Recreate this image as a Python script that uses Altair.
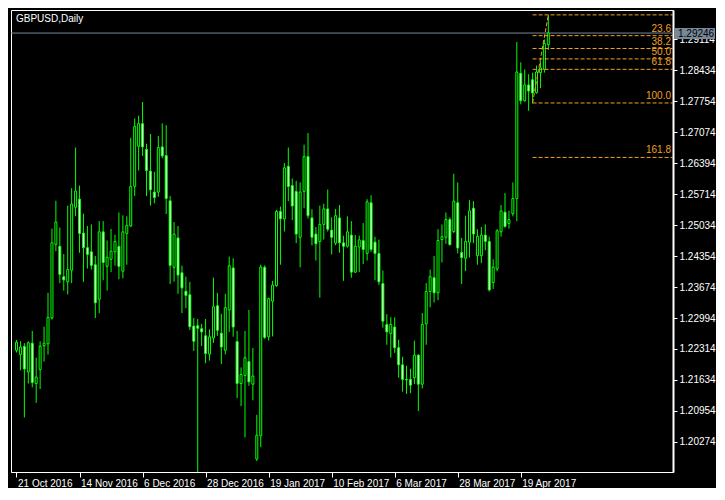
import json
import altair as alt
import pandas as pd

symbol_title = "GBPUSD,Daily"

opens = [1.22286, 1.22194, 1.22371, 1.21811, 1.22441, 1.21556, 1.21861, 1.22385, 1.22427, 1.22994,
         1.24609, 1.24567, 1.23901, 1.23787, 1.24042, 1.25424, 1.25601, 1.24857, 1.24538, 1.24446,
         1.24163, 1.23405, 1.24885, 1.24127, 1.24283, 1.24446, 1.24567, 1.24021, 1.24850, 1.25013,
         1.25884, 1.26762, 1.27258, 1.26692, 1.26217, 1.25757, 1.25757, 1.26748, 1.26557, 1.25565,
         1.24106, 1.24751, 1.23986, 1.23582, 1.23504, 1.22817, 1.22824, 1.22760, 1.22604, 1.22201,
         1.22555, 1.23263, 1.22661, 1.22286, 1.23171, 1.24092, 1.22477, 1.21556, 1.21733, 1.22038,
         1.21542, 1.19899, 1.20409, 1.24106, 1.22583, 1.23362, 1.23702, 1.25332, 1.25169, 1.26323,
         1.25898, 1.25771, 1.24765, 1.25771, 1.26536, 1.25190, 1.24836, 1.24673, 1.25048, 1.25388,
         1.24921, 1.24637, 1.25190, 1.24644, 1.24567, 1.24814, 1.24000, 1.24552, 1.24694, 1.24411,
         1.25523, 1.24659, 1.24411, 1.23752, 1.22852, 1.22654, 1.22796, 1.22342, 1.21967, 1.21648,
         1.21648, 1.21684, 1.22179, 1.21542, 1.22866, 1.23575, 1.23879, 1.23546, 1.24715, 1.24765,
         1.25154, 1.24892, 1.25523, 1.24432, 1.24304, 1.24659, 1.25402, 1.24361, 1.24361, 1.24814,
         1.24673, 1.23773, 1.24071, 1.24885, 1.25317, 1.25069, 1.25282, 1.25615, 1.28363, 1.27761,
         1.28108, 1.28222, 1.27938, 1.28377, 1.28448, 1.28994]
highs = [1.22513, 1.22484, 1.22441, 1.22484, 1.22711, 1.22123, 1.22484, 1.22803, 1.23547, 1.24956,
         1.25565, 1.24977, 1.24397, 1.25459, 1.25842, 1.26734, 1.25898, 1.25282, 1.25013, 1.25048,
         1.24354, 1.25119, 1.25119, 1.24694, 1.24949, 1.24822, 1.25310, 1.25247, 1.25225, 1.26947,
         1.27372, 1.27435, 1.27733, 1.26819, 1.27032, 1.26203, 1.26989, 1.27265, 1.27223, 1.25672,
         1.25098, 1.25013, 1.24142, 1.23901, 1.23787, 1.22994, 1.22973, 1.22867, 1.22973, 1.22746,
         1.23879, 1.23547, 1.23086, 1.23525, 1.24340, 1.24304, 1.22711, 1.21910, 1.22711, 1.23171,
         1.22335, 1.20869, 1.24163, 1.24149, 1.23440, 1.23809, 1.25367, 1.25438, 1.26394, 1.26734,
         1.26054, 1.26004, 1.25969, 1.26798, 1.27053, 1.25381, 1.24992, 1.25459, 1.25502, 1.25813,
         1.25204, 1.25388, 1.25473, 1.24800, 1.25225, 1.25119, 1.24814, 1.24800, 1.25077, 1.25601,
         1.25686, 1.24779, 1.24715, 1.24035, 1.23079, 1.23008, 1.23008, 1.22519, 1.22144, 1.21946,
         1.21882, 1.22498, 1.22201, 1.23100, 1.23759, 1.24056, 1.24354, 1.24942, 1.25048, 1.25310,
         1.25204, 1.26160, 1.25969, 1.24751, 1.25239, 1.25579, 1.25558, 1.24942, 1.24992, 1.25048,
         1.24779, 1.24283, 1.24942, 1.25473, 1.25735, 1.25346, 1.25969, 1.29050, 1.28604, 1.28448,
         1.28342, 1.28377, 1.28533, 1.28625, 1.29107, 1.29645]
lows = [1.22237, 1.21847, 1.20812, 1.21556, 1.21471, 1.21131, 1.21436, 1.22038, 1.22194, 1.22959,
        1.24460, 1.23759, 1.23596, 1.23511, 1.23759, 1.25225, 1.24425, 1.23787, 1.24078, 1.24057,
        1.22994, 1.23100, 1.23823, 1.23596, 1.24000, 1.24142, 1.23844, 1.23865, 1.24163, 1.24992,
        1.25672, 1.26231, 1.26550, 1.25672, 1.25459, 1.25509, 1.25650, 1.26500, 1.25275, 1.23738,
        1.23794, 1.23525, 1.23100, 1.23207, 1.22732, 1.22272, 1.19200, 1.22378, 1.22002, 1.22059,
        1.22449, 1.22604, 1.21981, 1.22194, 1.22689, 1.22583, 1.21237, 1.21060, 1.20373, 1.21507,
        1.21188, 1.19856, 1.20161, 1.22534, 1.22498, 1.22590, 1.23681, 1.24163, 1.24892, 1.25558,
        1.25140, 1.24637, 1.24106, 1.25402, 1.25176, 1.24588, 1.24255, 1.23440, 1.24715, 1.24892,
        1.24389, 1.24588, 1.24425, 1.23809, 1.24538, 1.23879, 1.23986, 1.24000, 1.24177, 1.24255,
        1.24446, 1.23823, 1.23717, 1.22782, 1.22406, 1.22123, 1.22229, 1.21684, 1.21379, 1.21329,
        1.21344, 1.21542, 1.20950, 1.21450, 1.22406, 1.23228, 1.23334, 1.23384, 1.24212, 1.24623,
        1.24588, 1.24857, 1.24411, 1.23738, 1.24021, 1.24319, 1.24637, 1.24163, 1.24198, 1.24482,
        1.23575, 1.23632, 1.24021, 1.24779, 1.24977, 1.24956, 1.25225, 1.25119, 1.27683, 1.27740,
        1.27542, 1.27704, 1.27917, 1.28037, 1.28377, 1.28873]
closes = [1.22463, 1.22357, 1.21875, 1.22449, 1.21577, 1.21698, 1.22378, 1.22441, 1.23008, 1.24644,
          1.25098, 1.23950, 1.23830, 1.24057, 1.25494, 1.25778, 1.24850, 1.24538, 1.24389, 1.24149,
          1.23327, 1.24885, 1.24212, 1.24326, 1.24460, 1.24673, 1.24127, 1.24885, 1.25027, 1.25877,
          1.27194, 1.27258, 1.26748, 1.26231, 1.25806, 1.25636, 1.26734, 1.26550, 1.25615, 1.24149,
          1.24836, 1.23936, 1.23653, 1.23490, 1.22803, 1.22484, 1.22767, 1.22689, 1.22215, 1.22583,
          1.23242, 1.22725, 1.22357, 1.23221, 1.24142, 1.22796, 1.21556, 1.21754, 1.22123, 1.21592,
          1.21719, 1.20423, 1.24113, 1.22569, 1.23419, 1.23717, 1.25332, 1.25169, 1.26288, 1.25877,
          1.25452, 1.24836, 1.25757, 1.26536, 1.25239, 1.24765, 1.24623, 1.25048, 1.25388, 1.24942,
          1.24765, 1.25239, 1.24644, 1.24567, 1.24885, 1.24000, 1.24567, 1.24708, 1.24496, 1.25544,
          1.24496, 1.24411, 1.23787, 1.22923, 1.22689, 1.22852, 1.22342, 1.21967, 1.21648, 1.21634,
          1.21521, 1.22179, 1.21542, 1.22852, 1.23575, 1.23901, 1.23546, 1.24694, 1.24779, 1.25154,
          1.24602, 1.25558, 1.24531, 1.24319, 1.24673, 1.25346, 1.24836, 1.24786, 1.24814, 1.24673,
          1.23610, 1.24113, 1.24907, 1.25346, 1.24999, 1.25154, 1.25615, 1.28392, 1.27761, 1.28108,
          1.27974, 1.27931, 1.28392, 1.28484, 1.29015, 1.29246]

tick_bars = [0, 16, 32, 48, 64, 80, 96, 112, 128]
tick_labels = ["21 Oct 2016", "14 Nov 2016", "6 Dec 2016", "28 Dec 2016", "19 Jan 2017",
               "10 Feb 2017", "6 Mar 2017", "28 Mar 2017", "19 Apr 2017"]
price_ticks = [1.29114, 1.28434, 1.27754, 1.27074, 1.26394, 1.25714, 1.25034, 1.24354,
               1.23674, 1.22994, 1.22314, 1.21634, 1.20954, 1.20274]

fib_labels = ["0.0", "23.6", "38.2", "50.0", "61.8", "100.0", "161.8"]
fib_prices = [1.29645, 1.29189, 1.28907, 1.28679, 1.28450, 1.27712, 1.26517]
fib_start_bar = 131
fib_end_bar = 135
fib_low = 1.27712
fib_high = 1.29645
current_price = 1.29246

W, H = 662, 462
BAR_PX = 4.0
X0 = -0.125
X_DOMAIN = [X0, X0 + W / BAR_PX]
Y_DOMAIN = [1.19615, 1.29752]
GREEN = "#00FF00"
ORANGE = "#F0A020"
SLATE = "#778899"
FONT = "Liberation Sans"
DASH = [4, 2]

df = pd.DataFrame({"i": list(range(len(opens))), "open": opens, "high": highs,
                   "low": lows, "close": closes})
df["top"] = [max(o, c) for o, c in zip(opens, closes)]
df["bot"] = [min(o, c) for o, c in zip(opens, closes)]
df["dir"] = ["up" if c >= o else "down" for o, c in zip(opens, closes)]

xs = alt.Scale(domain=X_DOMAIN, nice=False, zero=False)
ys = alt.Scale(domain=Y_DOMAIN, nice=False, zero=False)

label_expr = f"{json.dumps(tick_labels)}[indexof({json.dumps(tick_bars)}, datum.value)]"

x_axis = alt.Axis(values=tick_bars, labelExpr=label_expr, title=None, grid=False,
                  labelAlign="left", labelOffset=1, labelPadding=1, tickSize=5,
                  labelBaseline="top", labelFontSize=10, labelFont=FONT,
                  labelColor="white", tickColor="white", domainColor="white",
                  domainWidth=1, labelOverlap=False, labelBound=False, labelFlush=False)
y_axis = alt.Axis(orient="right", values=price_ticks, format=".5f", title=None, grid=False,
                  tickSize=4, labelPadding=2, domainWidth=2, labelFontSize=10,
                  labelFont=FONT, labelColor="white", tickColor="white",
                  domainColor="white", labelOverlap=False, labelBound=False, labelFlush=False)


def X(field):
    return alt.X(field, scale=xs, axis=x_axis)


def Y(field):
    return alt.Y(field, scale=ys, axis=y_axis)


base = alt.Chart(df)

wicks = base.mark_rule(color=GREEN, strokeWidth=1, clip=True).encode(
    x=X("i:Q"), y=Y("low:Q"), y2="high:Q")

bodies = base.mark_bar(size=2, stroke=GREEN, strokeWidth=1, clip=True).encode(
    x=X("i:Q"), y=Y("bot:Q"), y2="top:Q",
    fill=alt.Fill("dir:N", scale=alt.Scale(domain=["up", "down"], range=["#000000", "#FFFFFF"]),
                  legend=None),
)

cur_df = pd.DataFrame({"p": [current_price], "t": [f"{current_price:.5f}"]})
cur_line = alt.Chart(cur_df).mark_rule(color=SLATE, strokeWidth=1).encode(
    y=Y("p:Q"), x=alt.value(0), x2=alt.value(W))

fib_df = pd.DataFrame({"label": fib_labels, "price": fib_prices,
                       "start": [fib_start_bar] * len(fib_prices)})
fib_lines = alt.Chart(fib_df).mark_rule(color=ORANGE, strokeWidth=1, strokeDash=DASH,
                                        clip=True).encode(
    x=X("start:Q"), x2=alt.value(W), y=Y("price:Q"))
fib_text = alt.Chart(fib_df).transform_filter(
    alt.datum.label != "0.0"
).mark_text(color=ORANGE, align="right", baseline="bottom", dy=-2,
            fontSize=10, font=FONT, clip=True).encode(
    x=alt.value(W - 2), y=Y("price:Q"), text="label:N")

trend_df = pd.DataFrame({"x1": [fib_start_bar], "x2": [fib_end_bar],
                         "y1": [fib_low], "y2": [fib_high]})
trend = alt.Chart(trend_df).mark_rule(color=ORANGE, strokeWidth=1, strokeDash=DASH,
                                      clip=True).encode(
    x=X("x1:Q"), x2="x2:Q", y=Y("y1:Q"), y2="y2:Q")

title_df = pd.DataFrame({"t": [symbol_title]})
title = alt.Chart(title_df).mark_text(color="white", align="left", baseline="top",
                                      fontSize=10, font=FONT).encode(
    x=alt.value(5), y=alt.value(4), text="t:N")

box = alt.Chart(cur_df).mark_rect(color=SLATE, yOffset=-5, y2Offset=6).encode(
    x=alt.value(W + 2), x2=alt.value(W + 42), y=Y("p:Q"), y2="p:Q")
box_text = alt.Chart(cur_df).mark_text(color="black", align="left", baseline="middle",
                                       fontSize=10, font=FONT, dy=0.5).encode(
    x=alt.value(W + 5), y=Y("p:Q"), text="t:N")

chart = alt.layer(
    cur_line, wicks, bodies, fib_lines, trend, fib_text, title, box, box_text
).properties(
    width=W, height=H,
    padding={"left": 2, "top": 2, "right": 0, "bottom": 0},
    background="black",
).configure_view(
    stroke="white", strokeWidth=1, fill="black"
)

chart.save("out.html", embed_options={"renderer": "svg", "actions": False})
